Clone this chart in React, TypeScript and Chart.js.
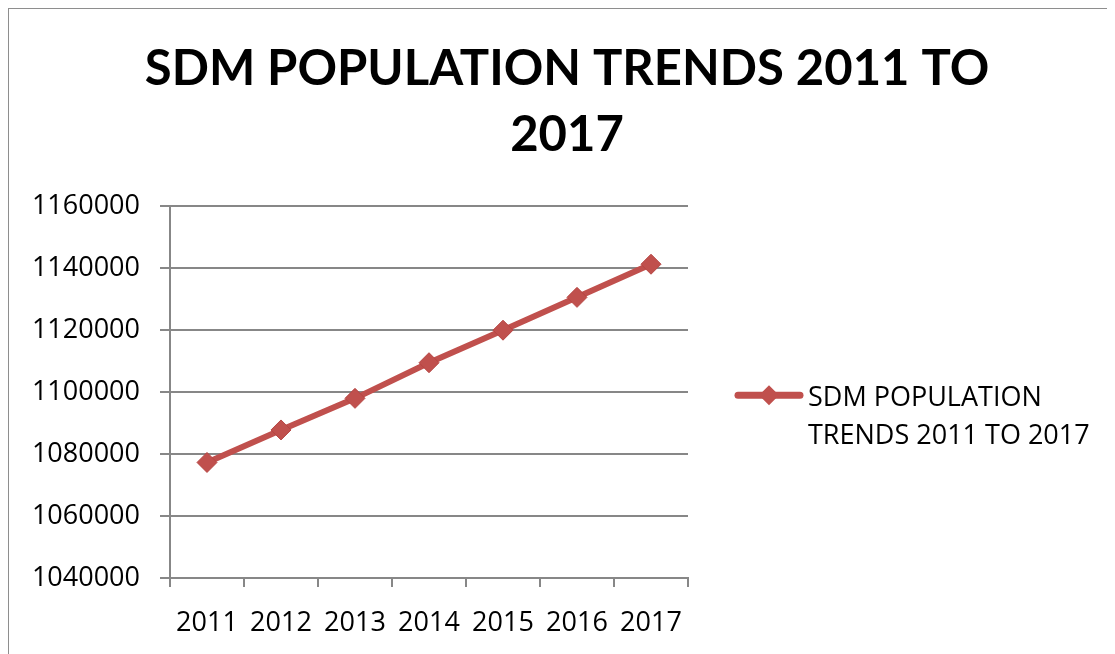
import React, { useEffect, useRef } from 'react';
import { Chart, registerables } from 'chart.js';

Chart.register(...registerables);

// ---- data ----
const years = ['2011', '2012', '2013', '2014', '2015', '2016', '2017'];
const population = [1077300, 1087800, 1098000, 1109500, 1120000, 1130600, 1141300];
const seriesName = 'SDM POPULATION TRENDS 2011 TO 2017';
const legendLines = ['SDM POPULATION', 'TRENDS 2011 TO 2017'];
const titleLines = ['SDM POPULATION TRENDS 2011 TO', '2017'];
const yMin = 1040000;
const yMax = 1160000;
const yStep = 20000;

// ---- styles ----
const RED = '#C0504D';
const RED_DARK = '#B64542';
const GRID = '#878787';
const FONT = "'Open Sans', sans-serif";

const sideLegend = {
  id: 'sideLegend',
  afterDraw(chart: any) {
    const { ctx, chartArea } = chart;
    const symLeft = chartArea.right + 50;
    const symRight = chartArea.right + 112;
    const cy = chartArea.top + 189;
    ctx.save();
    ctx.strokeStyle = RED;
    ctx.lineWidth = 7;
    ctx.lineCap = 'round';
    ctx.beginPath();
    ctx.moveTo(symLeft, cy);
    ctx.lineTo(symRight, cy);
    ctx.stroke();
    const cx = (symLeft + symRight) / 2;
    const r = 10;
    ctx.fillStyle = RED;
    ctx.beginPath();
    ctx.moveTo(cx, cy - r);
    ctx.lineTo(cx + r, cy);
    ctx.lineTo(cx, cy + r);
    ctx.lineTo(cx - r, cy);
    ctx.closePath();
    ctx.fill();
    ctx.fillStyle = '#000';
    ctx.font = `27px ${FONT}`;
    ctx.textBaseline = 'middle';
    ctx.textAlign = 'left';
    legendLines.forEach((line, i) => {
      ctx.fillText(line, chartArea.right + 120, cy + 3 + i * 38.5);
    });
    ctx.restore();
  },
};

export default function App() {
  const ref = useRef<HTMLCanvasElement>(null);

  useEffect(() => {
    document.body.style.overflow = 'hidden';
    const chart = new Chart(ref.current as HTMLCanvasElement, {
      type: 'line',
      data: {
        labels: years,
        datasets: [
          {
            label: seriesName,
            data: population,
            borderColor: RED,
            backgroundColor: RED,
            borderWidth: 6,
            pointStyle: 'rectRot',
            pointRadius: 10,
            pointBackgroundColor: RED,
            pointBorderColor: RED_DARK,
            pointBorderWidth: 1,
            tension: 0,
            yAxisID: 'y',
          },
        ],
      },
      options: {
        responsive: false,
        animation: false,
        layout: { padding: { left: 21, right: 11, top: 0, bottom: 0 } },
        plugins: {
          legend: { display: false },
          tooltip: { enabled: false },
          title: {
            display: true,
            text: titleLines,
            color: '#000',
            font: { family: 'Lato', size: 49, weight: 'bold', lineHeight: 1.35 },
            padding: { top: 27, bottom: 38 },
          },
        },
        scales: {
          x: {
            type: 'category',
            offset: true,
            grid: {
              display: true,
              offset: true,
              drawOnChartArea: false,
              drawTicks: true,
              tickLength: 9,
              color: GRID,
              lineWidth: 2,
            },
            border: { display: true, color: GRID, width: 2 },
            ticks: { color: '#000', font: { family: FONT, size: 27 }, padding: 20 },
            afterFit: (s: any) => {
              s.height = 76;
            },
          },
          y: {
            type: 'linear',
            position: 'left',
            min: yMin,
            max: yMax,
            grid: { color: GRID, lineWidth: 2, tickLength: 10 },
            border: { display: true, color: GRID, width: 2 },
            ticks: {
              stepSize: yStep,
              color: '#000',
              font: { family: FONT, size: 27 },
              padding: 20,
              callback: (v: any) => String(v),
            },
            afterFit: (s: any) => {
              s.width = 140;
            },
          },
          yR: {
            type: 'linear',
            position: 'right',
            display: true,
            grid: { display: false, drawTicks: false },
            border: { display: false },
            ticks: { display: false },
            afterFit: (s: any) => {
              s.width = 416;
            },
          },
        },
      },
      plugins: [sideLegend],
    });
    return () => chart.destroy();
  }, []);

  return (
    <div
      style={{
        position: 'relative',
        left: -1,
        top: -1,
        width: 1108,
        height: 647,
        boxSizing: 'border-box',
        borderTop: '2px solid #8e8e8e',
        borderLeft: '2px solid #8e8e8e',
      }}
    >
      <canvas ref={ref} width={1106} height={645} style={{ display: 'block', width: 1106, height: 645 }} />
    </div>
  );
}
